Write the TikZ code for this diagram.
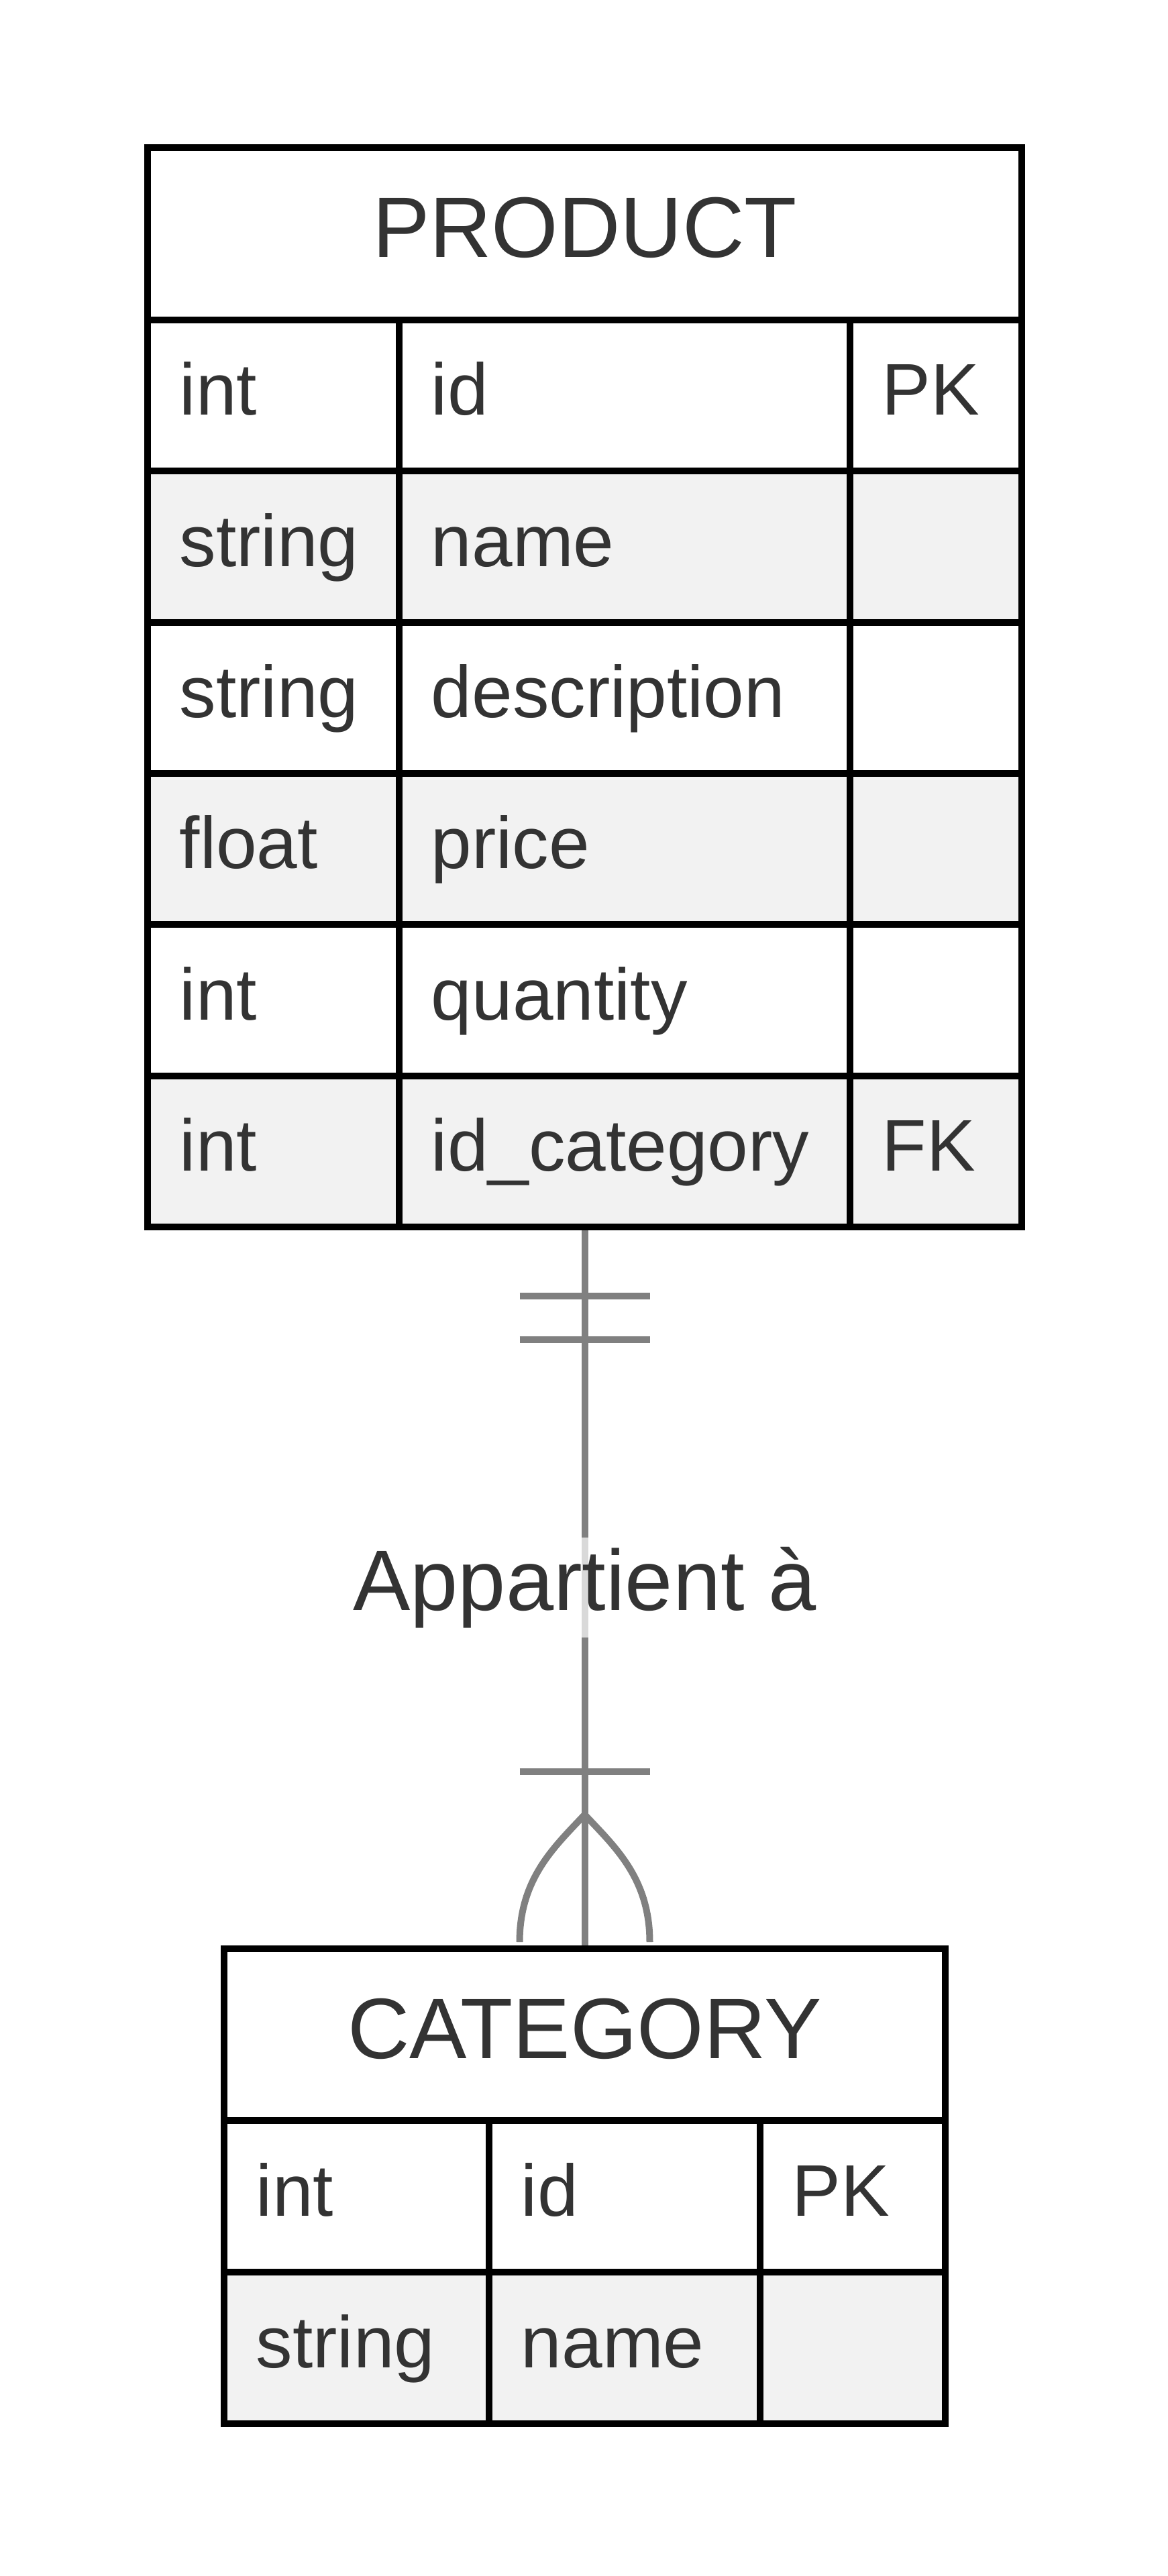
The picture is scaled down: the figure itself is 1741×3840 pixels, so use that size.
\documentclass[tikz,border=0pt]{standalone}
\usepackage{fontspec}
\setmainfont{Liberation Sans}
\usetikzlibrary{calc}
\definecolor{txt}{HTML}{333333}
\definecolor{rowgray}{HTML}{F2F2F2}
\definecolor{linegray}{HTML}{808080}
\begin{document}
\begin{tikzpicture}[x=0.25pt,y=-0.25pt,
  cell/.style={draw=black, line width=2.5pt, anchor=north west, inner sep=0pt, rectangle},
  hdrtext/.style={text=txt, font=\fontsize{32pt}{38pt}\selectfont, anchor=base, inner sep=0pt},
  attr/.style={text=txt, font=\fontsize{27.25pt}{32pt}\selectfont, anchor=base west, inner sep=0pt},
  rel/.style={draw=linegray, line width=2.5pt},
  lbl/.style={fill=white, fill opacity=0.7, text opacity=1, text=txt, font=\fontsize{32pt}{38pt}\selectfont, inner xsep=2pt, inner ysep=0pt, minimum height=37.25pt, anchor=center}
]
\useasboundingbox (0,0) rectangle (1741,3840);

% ---------- PRODUCT ----------
\node[cell, fill=white, minimum width=325.75pt, minimum height=64.25pt] (p-head) at (215,215) {};
\node[hdrtext] (p-title) at ([yshift=-8.75pt]p-head.center) {PRODUCT};
\foreach \i/\ty/\nm/\ky/\fl in {1/int/id/PK/white,2/string/name//rowgray,3/string/description//white,4/float/price//rowgray,5/int/quantity//white,6/int/id\_category/FK/rowgray}{
  \pgfmathsetmacro\yy{472+(\i-1)*225.333}
  \node[cell, fill=\fl, minimum width=93.75pt, minimum height=56.333pt] (p-\i-type) at (215,\yy) {};
  \node[cell, fill=\fl, minimum width=168pt, minimum height=56.333pt] (p-\i-name) at (590,\yy) {};
  \node[cell, fill=\fl, minimum width=64pt, minimum height=56.333pt] (p-\i-key) at (1262,\yy) {};
  \node[attr] (p-\i-type-t) at ([xshift=13pt,yshift=-7.3pt]p-\i-type.west) {\ty};
  \node[attr] (p-\i-name-t) at ([xshift=13pt,yshift=-7.3pt]p-\i-name.west) {\nm};
  \node[attr] (p-\i-key-t) at ([xshift=13pt,yshift=-7.3pt]p-\i-key.west) {\ky};
}

% ---------- CATEGORY ----------
\node[cell, fill=white, minimum width=268.75pt, minimum height=64pt] (c-head) at (329,2900) {};
\node[hdrtext] (c-title) at ([yshift=-8.75pt]c-head.center) {CATEGORY};
\foreach \i/\ty/\nm/\ky/\fl in {1/int/id/PK/white,2/string/name//rowgray}{
  \pgfmathsetmacro\yy{3156+(\i-1)*226}
  \node[cell, fill=\fl, minimum width=98.75pt, minimum height=56.5pt] (c-\i-type) at (329,\yy) {};
  \node[cell, fill=\fl, minimum width=101pt, minimum height=56.5pt] (c-\i-name) at (724,\yy) {};
  \node[cell, fill=\fl, minimum width=69pt, minimum height=56.5pt] (c-\i-key) at (1128,\yy) {};
  \node[attr] (c-\i-type-t) at ([xshift=13pt,yshift=-7.3pt]c-\i-type.west) {\ty};
  \node[attr] (c-\i-name-t) at ([xshift=13pt,yshift=-7.3pt]c-\i-name.west) {\nm};
  \node[attr] (c-\i-key-t) at ([xshift=13pt,yshift=-7.3pt]c-\i-key.west) {\ky};
}

% ---------- Relationship ----------
\coordinate (pb) at (p-head.center |- p-6-type.south);
\coordinate (ct) at (pb |- c-head.north);
\draw[rel] (pb) -- (ct);
% exactly one at PRODUCT side
\draw[rel] ($(pb)+(-97,98)$) -- ($(pb)+(97,98)$);
\draw[rel] ($(pb)+(-97,163)$) -- ($(pb)+(97,163)$);
% one or more at CATEGORY side
\coordinate (apex) at ($(ct)+(0,-195)$);
\draw[rel] ($(ct)+(-97,-259)$) -- ($(ct)+(97,-259)$);
\draw[rel] (apex) .. controls ($(apex)+(-45,48)$) and ($(ct)+(-97,-100)$) .. ($(ct)+(-97,-5)$);
\draw[rel] (apex) .. controls ($(apex)+(45,48)$) and ($(ct)+(97,-100)$) .. ($(ct)+(97,-5)$);
\node[lbl] (rel-label) at ($(pb)!0.5!(ct)+(0,-0.5)$) {Appartient à};
\end{tikzpicture}
\end{document}
